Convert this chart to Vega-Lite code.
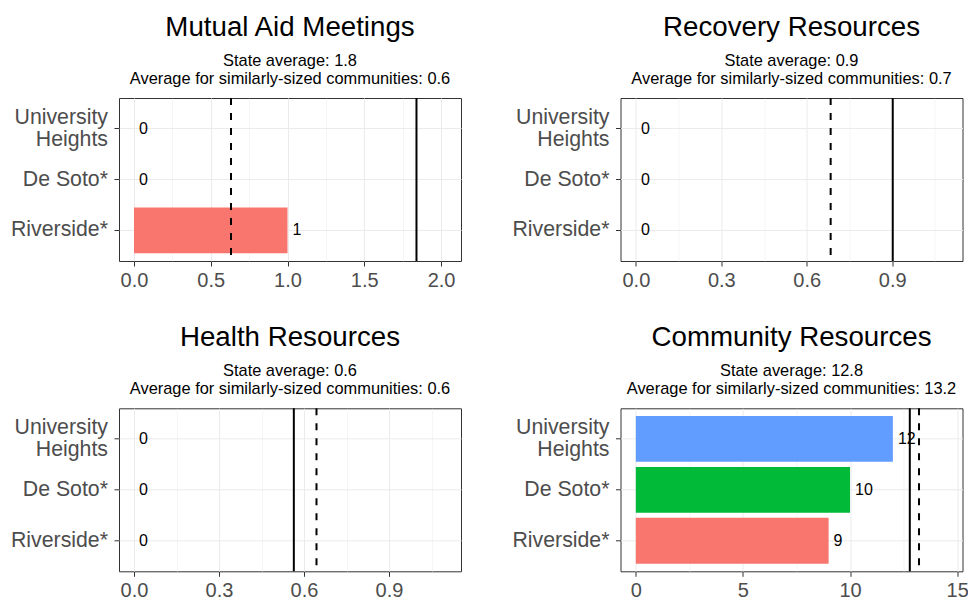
{
  "$schema": "https://vega.github.io/schema/vega-lite/v6.json",
  "background": "white",
  "padding": {"left": 9, "top": 13, "right": 0, "bottom": 0},
  "datasets": {
    "bars": [
      {"panel": "Mutual Aid Meetings", "community": "University Heights", "value": 0},
      {"panel": "Mutual Aid Meetings", "community": "De Soto*", "value": 0},
      {"panel": "Mutual Aid Meetings", "community": "Riverside*", "value": 1},
      {"panel": "Recovery Resources", "community": "University Heights", "value": 0},
      {"panel": "Recovery Resources", "community": "De Soto*", "value": 0},
      {"panel": "Recovery Resources", "community": "Riverside*", "value": 0},
      {"panel": "Health Resources", "community": "University Heights", "value": 0},
      {"panel": "Health Resources", "community": "De Soto*", "value": 0},
      {"panel": "Health Resources", "community": "Riverside*", "value": 0},
      {"panel": "Community Resources", "community": "University Heights", "value": 12},
      {"panel": "Community Resources", "community": "De Soto*", "value": 10},
      {"panel": "Community Resources", "community": "Riverside*", "value": 9}
    ],
    "refs": [
      {"panel": "Mutual Aid Meetings", "state": 1.84, "similar": 0.632},
      {"panel": "Recovery Resources", "state": 0.902, "similar": 0.684},
      {"panel": "Health Resources", "state": 0.564, "similar": 0.644},
      {"panel": "Community Resources", "state": 12.79, "similar": 13.22}
    ]
  },
  "columns": 2,
  "spacing": {"row": 32.3, "column": 48.5},
  "concat": [
    {
      "width": 342, "height": 163,
      "title": {"text": "Mutual Aid Meetings", "subtitle": ["State average: 1.8", "Average for similarly-sized communities: 0.6"]},
      "layer": [
        {
          "data": {"name": "bars"},
          "transform": [{"filter": "datum.panel === 'Mutual Aid Meetings'"}],
          "mark": {"type": "bar"},
          "encoding": {
            "y": {"field": "community", "type": "nominal", "title": null,
              "scale": {"domain": ["University Heights", "De Soto*", "Riverside*"], "paddingInner": 0.1, "paddingOuter": 0.15},
              "axis": {"bandPosition": 0.5, "labelExpr": "datum.value == 'University Heights' ? ['University', 'Heights'] : datum.value",
                "labelOffset": {"condition": {"test": "datum.value == 'University Heights'", "value": -11}, "value": 0}}},
            "x": {"field": "value", "type": "quantitative", "title": null,
              "scale": {"domain": [-0.0975, 2.13], "nice": false, "zero": false},
              "axis": {"values": [0, 0.25, 0.5, 0.75, 1, 1.25, 1.5, 1.75, 2], "format": ".1f",
                "labelExpr": "indexof([0.25, 0.75, 1.25, 1.75], datum.value) >= 0 ? '' : datum.label",
                "gridWidth": {"condition": {"test": "indexof([0.25, 0.75, 1.25, 1.75], datum.value) >= 0", "value": 0.5}, "value": 1},
                "tickOpacity": {"condition": {"test": "indexof([0.25, 0.75, 1.25, 1.75], datum.value) >= 0", "value": 0}, "value": 1}}},
            "color": {"field": "community", "type": "nominal", "legend": null,
              "scale": {"domain": ["Riverside*", "De Soto*", "University Heights"], "range": ["#F8766D", "#00BA38", "#619CFF"]}}
          }
        },
        {
          "data": {"name": "bars"},
          "transform": [{"filter": "datum.panel === 'Mutual Aid Meetings'"}],
          "mark": {"type": "text", "align": "left", "baseline": "middle", "dx": 5, "fontSize": 16, "color": "black"},
          "encoding": {
            "y": {"field": "community", "type": "nominal"},
            "x": {"field": "value", "type": "quantitative"},
            "text": {"field": "value", "type": "quantitative"}
          }
        },
        {
          "data": {"name": "refs"},
          "transform": [{"filter": "datum.panel === 'Mutual Aid Meetings'"}],
          "mark": {"type": "rule", "color": "black", "strokeWidth": 2},
          "encoding": {"x": {"field": "state", "type": "quantitative"}}
        },
        {
          "data": {"name": "refs"},
          "transform": [{"filter": "datum.panel === 'Mutual Aid Meetings'"}],
          "mark": {"type": "rule", "color": "black", "strokeWidth": 2, "strokeDash": [7, 8]},
          "encoding": {"x": {"field": "similar", "type": "quantitative"}}
        }
      ]
    },
    {
      "width": 342, "height": 163,
      "title": {"text": "Recovery Resources", "subtitle": ["State average: 0.9", "Average for similarly-sized communities: 0.7"]},
      "layer": [
        {
          "data": {"name": "bars"},
          "transform": [{"filter": "datum.panel === 'Recovery Resources'"}],
          "mark": {"type": "bar"},
          "encoding": {
            "y": {"field": "community", "type": "nominal", "title": null,
              "scale": {"domain": ["University Heights", "De Soto*", "Riverside*"], "paddingInner": 0.1, "paddingOuter": 0.15},
              "axis": {"bandPosition": 0.5, "labelExpr": "datum.value == 'University Heights' ? ['University', 'Heights'] : datum.value",
                "labelOffset": {"condition": {"test": "datum.value == 'University Heights'", "value": -11}, "value": 0}}},
            "x": {"field": "value", "type": "quantitative", "title": null,
              "scale": {"domain": [-0.054, 1.147], "nice": false, "zero": false},
              "axis": {"values": [0, 0.15, 0.3, 0.45, 0.6, 0.75, 0.9, 1.05], "format": ".1f",
                "labelExpr": "indexof([0.15, 0.45, 0.75, 1.05], datum.value) >= 0 ? '' : datum.label",
                "gridWidth": {"condition": {"test": "indexof([0.15, 0.45, 0.75, 1.05], datum.value) >= 0", "value": 0.5}, "value": 1},
                "tickOpacity": {"condition": {"test": "indexof([0.15, 0.45, 0.75, 1.05], datum.value) >= 0", "value": 0}, "value": 1}}},
            "color": {"field": "community", "type": "nominal", "legend": null,
              "scale": {"domain": ["Riverside*", "De Soto*", "University Heights"], "range": ["#F8766D", "#00BA38", "#619CFF"]}}
          }
        },
        {
          "data": {"name": "bars"},
          "transform": [{"filter": "datum.panel === 'Recovery Resources'"}],
          "mark": {"type": "text", "align": "left", "baseline": "middle", "dx": 5, "fontSize": 16, "color": "black"},
          "encoding": {
            "y": {"field": "community", "type": "nominal"},
            "x": {"field": "value", "type": "quantitative"},
            "text": {"field": "value", "type": "quantitative"}
          }
        },
        {
          "data": {"name": "refs"},
          "transform": [{"filter": "datum.panel === 'Recovery Resources'"}],
          "mark": {"type": "rule", "color": "black", "strokeWidth": 2},
          "encoding": {"x": {"field": "state", "type": "quantitative"}}
        },
        {
          "data": {"name": "refs"},
          "transform": [{"filter": "datum.panel === 'Recovery Resources'"}],
          "mark": {"type": "rule", "color": "black", "strokeWidth": 2, "strokeDash": [7, 8]},
          "encoding": {"x": {"field": "similar", "type": "quantitative"}}
        }
      ]
    },
    {
      "width": 342, "height": 163,
      "title": {"text": "Health Resources", "subtitle": ["State average: 0.6", "Average for similarly-sized communities: 0.6"]},
      "layer": [
        {
          "data": {"name": "bars"},
          "transform": [{"filter": "datum.panel === 'Health Resources'"}],
          "mark": {"type": "bar"},
          "encoding": {
            "y": {"field": "community", "type": "nominal", "title": null,
              "scale": {"domain": ["University Heights", "De Soto*", "Riverside*"], "paddingInner": 0.1, "paddingOuter": 0.15},
              "axis": {"bandPosition": 0.5, "labelExpr": "datum.value == 'University Heights' ? ['University', 'Heights'] : datum.value",
                "labelOffset": {"condition": {"test": "datum.value == 'University Heights'", "value": -11}, "value": 0}}},
            "x": {"field": "value", "type": "quantitative", "title": null,
              "scale": {"domain": [-0.053, 1.154], "nice": false, "zero": false},
              "axis": {"values": [0, 0.15, 0.3, 0.45, 0.6, 0.75, 0.9, 1.05], "format": ".1f",
                "labelExpr": "indexof([0.15, 0.45, 0.75, 1.05], datum.value) >= 0 ? '' : datum.label",
                "gridWidth": {"condition": {"test": "indexof([0.15, 0.45, 0.75, 1.05], datum.value) >= 0", "value": 0.5}, "value": 1},
                "tickOpacity": {"condition": {"test": "indexof([0.15, 0.45, 0.75, 1.05], datum.value) >= 0", "value": 0}, "value": 1}}},
            "color": {"field": "community", "type": "nominal", "legend": null,
              "scale": {"domain": ["Riverside*", "De Soto*", "University Heights"], "range": ["#F8766D", "#00BA38", "#619CFF"]}}
          }
        },
        {
          "data": {"name": "bars"},
          "transform": [{"filter": "datum.panel === 'Health Resources'"}],
          "mark": {"type": "text", "align": "left", "baseline": "middle", "dx": 5, "fontSize": 16, "color": "black"},
          "encoding": {
            "y": {"field": "community", "type": "nominal"},
            "x": {"field": "value", "type": "quantitative"},
            "text": {"field": "value", "type": "quantitative"}
          }
        },
        {
          "data": {"name": "refs"},
          "transform": [{"filter": "datum.panel === 'Health Resources'"}],
          "mark": {"type": "rule", "color": "black", "strokeWidth": 2},
          "encoding": {"x": {"field": "state", "type": "quantitative"}}
        },
        {
          "data": {"name": "refs"},
          "transform": [{"filter": "datum.panel === 'Health Resources'"}],
          "mark": {"type": "rule", "color": "black", "strokeWidth": 2, "strokeDash": [7, 8]},
          "encoding": {"x": {"field": "similar", "type": "quantitative"}}
        }
      ]
    },
    {
      "width": 342, "height": 163,
      "title": {"text": "Community Resources", "subtitle": ["State average: 12.8", "Average for similarly-sized communities: 13.2"]},
      "layer": [
        {
          "data": {"name": "bars"},
          "transform": [{"filter": "datum.panel === 'Community Resources'"}],
          "mark": {"type": "bar"},
          "encoding": {
            "y": {"field": "community", "type": "nominal", "title": null,
              "scale": {"domain": ["University Heights", "De Soto*", "Riverside*"], "paddingInner": 0.1, "paddingOuter": 0.15},
              "axis": {"bandPosition": 0.5, "labelExpr": "datum.value == 'University Heights' ? ['University', 'Heights'] : datum.value",
                "labelOffset": {"condition": {"test": "datum.value == 'University Heights'", "value": -11}, "value": 0}}},
            "x": {"field": "value", "type": "quantitative", "title": null,
              "scale": {"domain": [-0.715, 15.25], "nice": false, "zero": false},
              "axis": {"values": [0, 2.5, 5, 7.5, 10, 12.5, 15], "format": "d",
                "labelExpr": "indexof([2.5, 7.5, 12.5], datum.value) >= 0 ? '' : datum.label",
                "gridWidth": {"condition": {"test": "indexof([2.5, 7.5, 12.5], datum.value) >= 0", "value": 0.5}, "value": 1},
                "tickOpacity": {"condition": {"test": "indexof([2.5, 7.5, 12.5], datum.value) >= 0", "value": 0}, "value": 1}}},
            "color": {"field": "community", "type": "nominal", "legend": null,
              "scale": {"domain": ["Riverside*", "De Soto*", "University Heights"], "range": ["#F8766D", "#00BA38", "#619CFF"]}}
          }
        },
        {
          "data": {"name": "bars"},
          "transform": [{"filter": "datum.panel === 'Community Resources'"}],
          "mark": {"type": "text", "align": "left", "baseline": "middle", "dx": 5, "fontSize": 16, "color": "black"},
          "encoding": {
            "y": {"field": "community", "type": "nominal"},
            "x": {"field": "value", "type": "quantitative"},
            "text": {"field": "value", "type": "quantitative"}
          }
        },
        {
          "data": {"name": "refs"},
          "transform": [{"filter": "datum.panel === 'Community Resources'"}],
          "mark": {"type": "rule", "color": "black", "strokeWidth": 2},
          "encoding": {"x": {"field": "state", "type": "quantitative"}}
        },
        {
          "data": {"name": "refs"},
          "transform": [{"filter": "datum.panel === 'Community Resources'"}],
          "mark": {"type": "rule", "color": "black", "strokeWidth": 2, "strokeDash": [7, 8]},
          "encoding": {"x": {"field": "similar", "type": "quantitative"}}
        }
      ]
    }
  ],
  "resolve": {"scale": {"x": "independent", "y": "independent", "color": "independent"}},
  "config": {
    "font": "Liberation Sans",
    "view": {"stroke": "#333333", "strokeWidth": 1},
    "axis": {
      "labelFont": "Liberation Sans", "labelColor": "#4D4D4D",
      "tickColor": "#333333", "tickSize": 5, "tickWidth": 1, "ticks": true,
      "domain": false, "grid": true, "gridColor": "#EBEBEB"
    },
    "axisX": {"labelFontSize": 20, "labelPadding": 4},
    "axisY": {"labelFontSize": 21.3, "labelLineHeight": 22, "labelPadding": 6.5},
    "text": {"font": "Liberation Sans"},
    "title": {
      "font": "Liberation Sans", "fontSize": 27.7, "fontWeight": "normal", "color": "black",
      "subtitleFont": "Liberation Sans", "subtitleFontSize": 16.4, "subtitleColor": "black",
      "subtitleLineHeight": 18, "subtitlePadding": 11.4,
      "anchor": "middle", "frame": "group", "offset": 10
    }
  }
}
